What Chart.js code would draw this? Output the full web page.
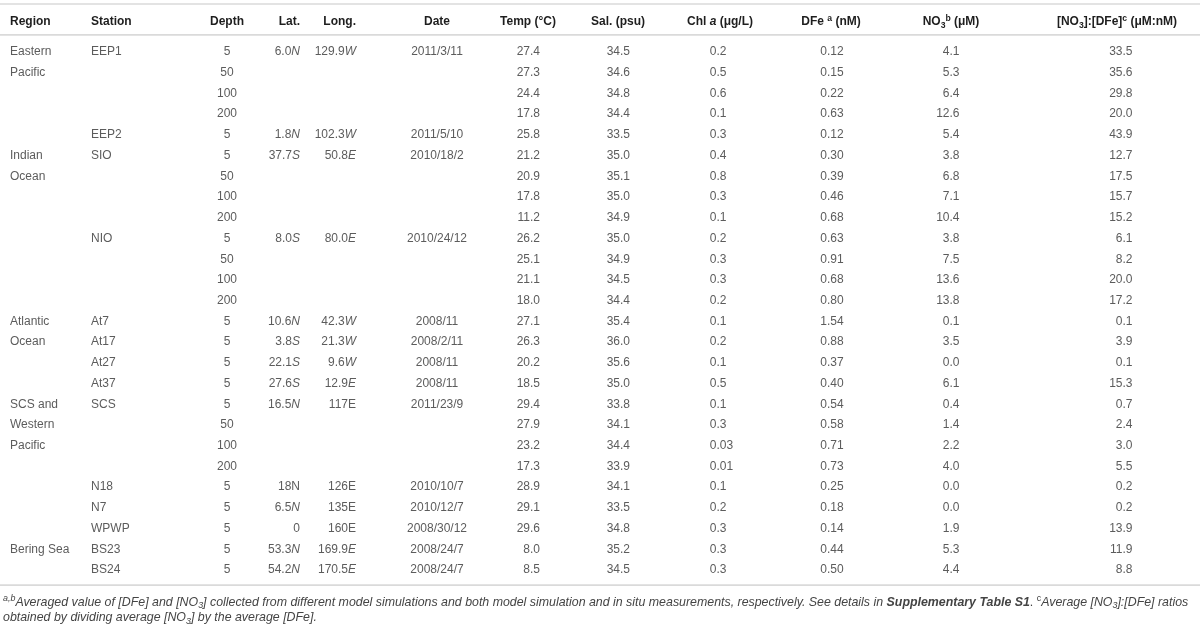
<!DOCTYPE html>
<html>
<head>
<meta charset="utf-8">
<script src="https://cdn.jsdelivr.net/npm/chart.js@4.4.1/dist/chart.umd.min.js"></script>
<style>
  html,body{margin:0;padding:0;background:#fff;}
  #wrap{width:1200px;height:627px;position:relative;}
</style>
</head>
<body>
<div id="wrap"><canvas id="c"></canvas></div>
<script>
// ---------------- DATA ----------------
const headers = ["Region","Station","Depth","Lat.","Long.","Date","Temp (°C)","Sal. (psu)","Chl *a* (μg/L)","DFe ^a^ (nM)","NO~3~^b^ (μM)","[NO~3~]:[DFe]^c^ (μM:nM)"];

const region = ["Eastern","Pacific","","","","Indian","Ocean","","","","","","","Atlantic","Ocean","","","SCS and","Western","Pacific","","","","","Bering Sea",""];
const station = ["EEP1","","","","EEP2","SIO","","","","NIO","","","","At7","At17","At27","At37","SCS","","","","N18","N7","WPWP","BS23","BS24"];
const depth = [5,50,100,200,5,5,50,100,200,5,50,100,200,5,5,5,5,5,50,100,200,5,5,5,5,5];
const lat = ["6.0*N*","","","","1.8*N*","37.7*S*","","","","8.0*S*","","","","10.6*N*","3.8*S*","22.1*S*","27.6*S*","16.5*N*","","","","18N","6.5*N*","0","53.3*N*","54.2*N*"];
const lon = ["129.9*W*","","","","102.3*W*","50.8*E*","","","","80.0*E*","","","","42.3*W*","21.3*W*","9.6*W*","12.9*E*","117E","","","","126E","135E","160E","169.9*E*","170.5*E*"];
const date = ["2011/3/11","","","","2011/5/10","2010/18/2","","","","2010/24/12","","","","2008/11","2008/2/11","2008/11","2008/11","2011/23/9","","","","2010/10/7","2010/12/7","2008/30/12","2008/24/7","2008/24/7"];
const temp = [27.4,27.3,24.4,17.8,25.8,21.2,20.9,17.8,11.2,26.2,25.1,21.1,18.0,27.1,26.3,20.2,18.5,29.4,27.9,23.2,17.3,28.9,29.1,29.6,8.0,8.5];
const sal = [34.5,34.6,34.8,34.4,33.5,35.0,35.1,35.0,34.9,35.0,34.9,34.5,34.4,35.4,36.0,35.6,35.0,33.8,34.1,34.4,33.9,34.1,33.5,34.8,35.2,34.5];
const chl = [0.2,0.5,0.6,0.1,0.3,0.4,0.8,0.3,0.1,0.2,0.3,0.3,0.2,0.1,0.2,0.1,0.5,0.1,0.3,0.03,0.01,0.1,0.2,0.3,0.3,0.3];
const dfe = [0.12,0.15,0.22,0.63,0.12,0.30,0.39,0.46,0.68,0.63,0.91,0.68,0.80,1.54,0.88,0.37,0.40,0.54,0.58,0.71,0.73,0.25,0.18,0.14,0.44,0.50];
const no3 = [4.1,5.3,6.4,12.6,5.4,3.8,6.8,7.1,10.4,3.8,7.5,13.6,13.8,0.1,3.5,0.0,6.1,0.4,1.4,2.2,4.0,0.0,0.0,1.9,5.3,4.4];
const ratio = [33.5,35.6,29.8,20.0,43.9,12.7,17.5,15.7,15.2,6.1,8.2,20.0,17.2,0.1,3.9,0.1,15.3,0.7,2.4,3.0,5.5,0.2,0.2,13.9,11.9,8.8];

const footnote1 = "^*a,b*^*Averaged value of [DFe] and [NO~3~] collected from different model simulations and both model simulation and in situ measurements, respectively. See details in **#Supplementary Table S1#*. ^c^*Average [NO~3~]:[DFe] ratios*";
const footnote2 = "*obtained by dividing average [NO~3~] by the average [DFe].*";

// ---------------- LAYOUT / STYLE ----------------
const FAMILY = '"Liberation Sans", Arial, Helvetica, sans-serif';
const BODY_SIZE = 12, HEAD_SIZE = 12;
const BODY_COLOR = '#5c5c5c', HEAD_COLOR = '#1e1e1e', RULE_COLOR = '#dadada';
const ROW0_PX = 51, PITCH_PX = 20.72;       // row placement on the y scale
const Y_MIN = -ROW0_PX / PITCH_PX, Y_MAX = Y_MIN + 627 / PITCH_PX;
const HEADER_ROW = -1.45;
const RULES = [-2.27, -0.78, 25.78];
const FOOT_ROWS = [26.55, 27.3];
// column: header anchor/alignment, value anchor/alignment
const colLayout = [
  {hx:10,  ha:'left',   vx:10,   va:'left'},
  {hx:91,  ha:'left',   vx:91,   va:'left'},
  {hx:227, ha:'center', vx:227,  va:'center'},
  {hx:300, ha:'right',  vx:300,  va:'right'},
  {hx:356, ha:'right',  vx:356,  va:'right'},
  {hx:437, ha:'center', vx:437,  va:'center'},
  {hx:528, ha:'center', vx:530,  va:'decimal'},
  {hx:618, ha:'center', vx:620,  va:'decimal'},
  {hx:720, ha:'center', vx:716.5,va:'decimal'},
  {hx:831, ha:'center', vx:827,  va:'decimal'},
  {hx:951, ha:'center', vx:949.5,va:'decimal'},
  {hx:1117,ha:'center', vx:1122.5,va:'decimal'}
];

function fmt(v, minDec){
  const s = String(v);
  const d = s.includes('.') ? s.split('.')[1].length : 0;
  return v.toFixed(Math.max(d, minDec));
}
const columns = [
  region, station, depth.map(String), lat, lon, date,
  temp.map(v=>fmt(v,1)), sal.map(v=>fmt(v,1)), chl.map(v=>fmt(v,1)),
  dfe.map(v=>fmt(v,2)), no3.map(v=>fmt(v,1)), ratio.map(v=>fmt(v,1))
];

// ---------------- RICH TEXT ----------------
function parseRich(s){
  const segs=[]; const st={i:false,b:false,sup:false,sub:false}; let buf='';
  const flush=()=>{ if(buf){segs.push({t:buf,i:st.i,b:st.b,sup:st.sup,sub:st.sub}); buf='';} };
  for(const ch of s){
    if(ch==='*'){flush(); st.i=!st.i;}
    else if(ch==='#'){flush(); st.b=!st.b;}
    else if(ch==='^'){flush(); st.sup=!st.sup;}
    else if(ch==='~'){flush(); st.sub=!st.sub;}
    else buf+=ch;
  }
  flush(); return segs;
}
function segFont(seg, size, bold){
  const sz = (seg.sup||seg.sub) ? size*0.72 : size;
  return (seg.i?'italic ':'') + ((seg.b||bold)?'bold ':'') + sz.toFixed(2)+'px '+FAMILY;
}
function measureSegs(ctx, segs, size, bold){
  let w=0; for(const s of segs){ ctx.font=segFont(s,size,bold); w+=ctx.measureText(s.t).width; } return w;
}
function drawRich(ctx, text, x, yMid, align, size, bold, color){
  const segs = parseRich(text);
  const w = measureSegs(ctx, segs, size, bold);
  let sx;
  if(align==='left') sx=x;
  else if(align==='right') sx=x-w;
  else if(align==='center') sx=x-w/2;
  else { // decimal alignment
    const plain = segs.map(s=>s.t).join('');
    let idx = plain.indexOf('.');
    if(idx<0){ const m = plain.match(/^[0-9]*/); idx = m[0].length; }
    ctx.font = (bold?'bold ':'')+size+'px '+FAMILY;
    sx = x - ctx.measureText(plain.slice(0,idx)).width;
  }
  const base = yMid + size*0.36;
  ctx.fillStyle=color; ctx.textBaseline='alphabetic'; ctx.textAlign='left';
  for(const s of segs){
    ctx.font=segFont(s,size,bold);
    let yy = base;
    if(s.sup) yy = base - size*0.38;
    if(s.sub) yy = base + size*0.22;
    ctx.fillText(s.t, sx, yy);
    sx += ctx.measureText(s.t).width;
  }
}

// ---------------- DATASETS ----------------
const datasets = columns.map((col, c) => ({
  label: 'col'+c,
  data: col.map((t, r) => ({x: colLayout[c].vx, y: r, t})).filter(p => p.t !== ''),
  pointRadius: 0, showLine: false
}));
datasets.push({
  label: 'header',
  data: headers.map((t, c) => ({x: colLayout[c].hx, y: HEADER_ROW, t, c})),
  pointRadius: 0, showLine: false
});

const tablePlugin = {
  id: 'table',
  afterDatasetsDraw(chart){
    const ctx = chart.ctx, xs = chart.scales.x, ys = chart.scales.y;
    ctx.save();
    ctx.strokeStyle = RULE_COLOR; ctx.lineWidth = 1.6;
    for(const r of RULES){
      const py = ys.getPixelForValue(r);
      ctx.beginPath(); ctx.moveTo(xs.getPixelForValue(0), py); ctx.lineTo(xs.getPixelForValue(1200), py); ctx.stroke();
    }
    chart.data.datasets.forEach((ds, di) => {
      const meta = chart.getDatasetMeta(di);
      const isHeader = ds.label === 'header';
      meta.data.forEach((el, j) => {
        const p = ds.data[j];
        if(isHeader){
          drawRich(ctx, p.t, el.x, el.y, colLayout[p.c].ha, HEAD_SIZE, true, HEAD_COLOR);
        } else {
          drawRich(ctx, p.t, el.x, el.y, colLayout[di].va, BODY_SIZE, false, BODY_COLOR);
        }
      });
    });
    const segs = parseRich(footnote1);
    const w11 = measureSegs(ctx, segs, 11, false);
    const fsize = 11 * 1186 / w11;
    drawRich(ctx, footnote1, xs.getPixelForValue(3), ys.getPixelForValue(FOOT_ROWS[0]), 'left', fsize, false, '#444');
    drawRich(ctx, footnote2, xs.getPixelForValue(3), ys.getPixelForValue(FOOT_ROWS[1]), 'left', fsize, false, '#444');
    ctx.restore();
  }
};

new Chart(document.getElementById('c'), {
  type: 'scatter',
  data: { datasets },
  options: {
    responsive: true, maintainAspectRatio: false, animation: false,
    layout: { padding: 0 },
    plugins: { legend: {display:false}, tooltip: {enabled:false} },
    scales: {
      x: { type:'linear', min:0, max:1200, display:false },
      y: { type:'linear', min:Y_MIN, max:Y_MAX, reverse:true, display:false }
    }
  },
  plugins: [tablePlugin]
});
</script>
</body>
</html>
